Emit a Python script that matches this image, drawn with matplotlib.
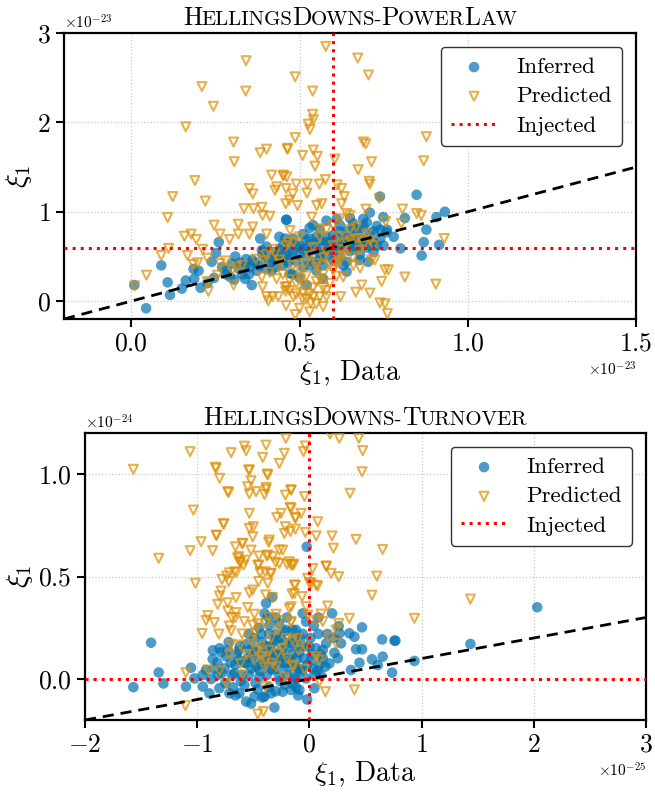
import numpy as np
import matplotlib
matplotlib.use("Agg")
import matplotlib.pyplot as plt
from matplotlib.offsetbox import TextArea, HPacker, AnchoredOffsetbox

plt.rcParams['font.family'] = 'serif'
plt.rcParams['font.serif'] = ['cmr10']
plt.rcParams['mathtext.fontset'] = 'cm'
plt.rcParams['axes.formatter.use_mathtext'] = True
plt.rcParams['axes.unicode_minus'] = True

BLUE = '#0173b2'
ORANGE = '#de8f05'

# ---- HellingsDowns-PowerLaw (both axes in units of 1e-23) ----
pl_scale = 1e-23
pl_inferred = [
    (0.044, -0.08), (0.009, 0.18), (0.089, 0.40), (0.108, 0.21), (0.115, 0.07), (0.15, 0.14),
    (0.162, 0.23), (0.187, 0.25), (0.185, 0.36), (0.206, 0.15), (0.20, 0.34), (0.239, 0.44),
    (0.246, 0.26), (0.26, 0.66), (0.252, 0.54), (0.226, 0.20), (0.294, 0.27), (0.306, 0.24),
    (0.309, 0.50), (0.323, 0.43), (0.338, 0.25), (0.341, 0.47), (0.358, 0.18), (0.368, 0.43),
    (0.383, 0.70), (0.388, 0.57), (0.402, 0.61), (0.417, 0.34), (0.422, 0.45), (0.432, 0.49),
    (0.457, 0.70), (0.46, 0.91), (0.466, 0.43), (0.373, 0.34), (0.353, 0.38), (0.284, 0.34),
    (0.848, 1.19), (0.739, 1.17), (0.932, 1.00), (0.907, 0.94), (0.877, 0.80), (0.869, 0.66),
    (0.915, 0.63), (0.863, 0.51), (0.80, 0.59), (0.813, 0.93), (0.749, 0.94), (0.758, 0.77),
    (0.462, 0.91), (0.709, 0.99), (0.689, 0.92), (0.659, 0.87), (0.704, 0.44), (0.679, 0.46),
    (0.64, 0.44), (0.472, 0.31), (0.521, 0.18),
    (0.48, 0.55), (0.50, 0.62), (0.52, 0.48), (0.53, 0.70), (0.55, 0.58), (0.56, 0.80),
    (0.57, 0.52), (0.58, 0.66), (0.60, 0.74), (0.61, 0.60), (0.62, 0.85), (0.63, 0.68),
    (0.64, 0.78), (0.65, 0.56), (0.66, 0.72), (0.67, 0.62), (0.68, 0.80), (0.69, 0.70),
    (0.70, 0.60), (0.71, 0.76), (0.72, 0.66), (0.73, 0.84), (0.74, 0.70), (0.75, 0.62),
    (0.44, 0.58), (0.45, 0.40), (0.47, 0.66), (0.49, 0.45), (0.51, 0.38), (0.54, 0.44),
    (0.55, 0.34), (0.57, 0.40), (0.59, 0.50), (0.60, 0.45), (0.62, 0.50), (0.63, 0.40),
    (0.51, 0.75), (0.54, 0.85), (0.58, 0.90), (0.61, 0.92), (0.65, 0.93), (0.40, 0.48),
    (0.43, 0.38), (0.46, 0.52), (0.52, 0.60), (0.56, 0.68), (0.66, 0.82), (0.70, 0.88),
    (0.76, 0.80), (0.78, 0.72), (0.48, 0.30), (0.50, 0.26), (0.57, 0.25), (0.64, 0.33),
    (0.68, 0.52), (0.72, 0.55), (0.44, 0.72), (0.53, 0.82), (0.62, 0.63), (0.59, 0.58),
    (0.36, 0.46), (0.38, 0.40), (0.39, 0.52), (0.41, 0.42), (0.42, 0.55), (0.43, 0.50),
    (0.45, 0.62), (0.46, 0.46), (0.47, 0.55), (0.48, 0.70), (0.49, 0.62), (0.50, 0.52),
    (0.51, 0.58), (0.52, 0.68), (0.53, 0.56), (0.54, 0.64), (0.55, 0.72), (0.56, 0.52),
    (0.57, 0.60), (0.58, 0.72), (0.59, 0.66), (0.60, 0.55), (0.61, 0.70), (0.62, 0.78),
    (0.63, 0.60), (0.64, 0.70), (0.65, 0.64), (0.66, 0.66), (0.67, 0.76), (0.68, 0.62),
    (0.69, 0.84), (0.70, 0.68), (0.71, 0.62), (0.72, 0.78), (0.73, 0.62), (0.74, 0.80),
    (0.34, 0.40), (0.32, 0.36), (0.30, 0.42), (0.27, 0.38), (0.28, 0.30), (0.33, 0.30),
    (0.35, 0.30), (0.40, 0.36), (0.44, 0.52), (0.53, 0.40), (0.56, 0.46), (0.66, 0.58),
]
pl_predicted = [
    (0.341, 2.69), (0.21, 2.40), (0.34, 2.35), (0.244, 2.18), (0.162, 1.95), (0.304, 1.78),
    (0.306, 1.56), (0.383, 1.66), (0.402, 1.70), (0.464, 1.70), (0.189, 1.35), (0.123, 1.17),
    (0.22, 1.12), (0.108, 0.935), (0.351, 1.26), (0.361, 1.20), (0.335, 1.035), (0.363, 1.035),
    (0.388, 1.05), (0.39, 0.96), (0.412, 0.95), (0.417, 1.41), (0.432, 1.28), (0.452, 1.40),
    (0.427, 1.24), (0.46, 1.26), (0.459, 1.09), (0.246, 0.85), (0.318, 0.86), (0.361, 0.83),
    (0.158, 0.726), (0.178, 0.75), (0.193, 0.69), (0.264, 0.75), (0.292, 0.69), (0.318, 0.75),
    (0.351, 0.75), (0.402, 0.75), (0.111, 0.59), (0.089, 0.51), (0.167, 0.51), (0.212, 0.58),
    (0.226, 0.48), (0.197, 0.43), (0.185, 0.41), (0.045, 0.29), (0.01, 0.17), (0.264, 0.42),
    (0.256, 0.29), (0.226, 0.22), (0.229, 0.11), (0.304, 0.18), (0.313, 0.38), (0.388, 0.27),
    (0.39, 0.16), (0.402, 0.05), (0.407, 0.004), (0.42, 0.05), (0.437, 0.05), (0.457, 0.16),
    (0.459, 0.11), (0.432, 0.25), (0.412, 0.32), (0.397, 0.45), (0.427, 0.53), (0.466, 0.66),
    (0.442, 0.42),
    (0.578, 2.85), (0.673, 2.72), (0.705, 2.53), (0.487, 2.51), (0.539, 2.35), (0.539, 2.09),
    (0.541, 2.03), (0.526, 1.98), (0.531, 1.92), (0.487, 1.83), (0.464, 1.71), (0.509, 1.63),
    (0.541, 1.69), (0.553, 1.62), (0.546, 1.51), (0.605, 1.59), (0.69, 1.78), (0.697, 1.76),
    (0.714, 1.56), (0.674, 1.47), (0.707, 1.34), (0.709, 1.31), (0.877, 1.84), (0.869, 1.57),
    (0.452, 1.41), (0.462, 1.39), (0.49, 1.31), (0.523, 1.31), (0.559, 1.31), (0.577, 1.36),
    (0.612, 1.30), (0.625, 1.26), (0.633, 1.17), (0.625, 1.09), (0.566, 1.09), (0.551, 1.07),
    (0.494, 1.07), (0.47, 1.13), (0.48, 1.20), (0.522, 1.21), (0.697, 1.03), (0.737, 1.15),
    (0.806, 1.03), (0.803, 0.87), (0.848, 0.98), (0.862, 0.96), (0.756, 0.89), (0.93, 0.70),
    (0.536, 0.94), (0.64, 0.98), (0.65, 0.96), (0.714, 0.46), (0.724, 0.46), (0.754, 0.35),
    (0.764, 0.35), (0.813, 0.27), (0.905, 0.19), (0.744, 0.22), (0.685, 0.18), (0.709, 0.09),
    (0.667, 0.10), (0.68, 0.37), (0.739, -0.02), (0.754, -0.03), (0.761, -0.14), (0.63, 0.27),
    (0.622, 0.05), (0.58, 0.12), (0.58, 0.05), (0.541, 0.05), (0.533, -0.02), (0.509, 0.03),
    (0.487, -0.15), (0.482, 0.05), (0.462, 0.16), (0.561, 0.25), (0.551, 0.42), (0.571, 0.49),
    (0.516, 0.42), (0.482, 0.66), (0.472, 0.79), (0.561, 0.81), (0.619, 0.72), (0.669, 0.83),
    (0.609, 0.42), (0.659, 0.49), (0.68, 0.57), (0.60, 0.35), (0.504, 0.25),
    (0.45, 0.30), (0.47, 0.12), (0.49, 0.20), (0.50, 0.35), (0.51, 0.10), (0.52, 0.28),
    (0.53, 0.50), (0.54, 0.15), (0.55, 0.38), (0.56, 0.05), (0.57, 0.30), (0.58, 0.55),
    (0.59, 0.20), (0.60, 0.62), (0.61, 0.28), (0.62, 0.45), (0.63, 0.58), (0.64, 0.65),
    (0.65, 0.80), (0.66, 0.40), (0.67, 0.70), (0.69, 0.62), (0.70, 0.75), (0.72, 0.62),
    (0.46, -0.05), (0.50, -0.08), (0.53, -0.12), (0.55, -0.03), (0.57, -0.06), (0.52, 0.02),
    (0.48, 0.40), (0.54, 0.60), (0.56, 0.72), (0.58, 0.80), (0.60, 0.85), (0.62, 0.92),
    (0.50, 0.72), (0.46, 0.62), (0.44, 0.46), (0.42, 0.58), (0.40, 0.52), (0.37, 0.47),
    (0.33, 0.40), (0.30, 0.35), (0.28, 0.45),
    (0.47, 0.24), (0.49, 0.08), (0.51, 0.18), (0.53, 0.08), (0.55, 0.22), (0.57, 0.15),
    (0.59, 0.40), (0.61, 0.50), (0.63, 0.52), (0.65, 0.68), (0.68, 0.70), (0.71, 0.68),
]
pl_injected = 0.6

# ---- HellingsDowns-Turnover (x in 1e-25, y in 1e-24) ----
to_xscale = 1e-25
to_yscale = 1e-24
to_inferred = [
    (-1.569, -0.04), (-1.411, 0.177), (-1.343, 0.032), (-1.301, -0.022), (-1.055, 0.055),
    (-1.1, -0.037), (-1.025, 0.003), (-0.95, -0.037), (-0.876, 0.0), (-0.862, 0.097),
    (-0.787, 0.13), (-0.728, 0.141), (-0.891, -0.07), (-0.802, -0.045), (-0.713, -0.07),
    (-0.624, -0.07), (-0.564, -0.11), (-0.52, -0.12), (-0.49, -0.086), (-0.401, -0.086),
    (-0.312, -0.139), (-0.342, -0.07), (-0.238, -0.062), (-0.164, -0.053), (-0.386, 0.369),
    (-0.371, 0.304), (-0.357, 0.263), (-0.297, 0.191), (-0.223, 0.232), (-0.164, 0.174),
    (-0.535, 0.141), (-0.624, 0.093), (-0.564, 0.076), (-0.475, 0.06), (-0.446, 0.011),
    (-0.327, 0.044), (-0.268, 0.093), (-0.208, 0.076), (-0.149, -0.021), (-0.668, 0.028),
    (-0.757, 0.052), (-0.817, 0.02), (-0.921, 0.044),
    (-0.024, 0.645), (0.202, 0.32), (0.261, 0.258), (0.268, 0.223), (0.356, 0.223),
    (0.401, 0.206), (0.469, 0.252), (0.416, 0.145), (0.469, 0.145), (0.282, 0.174),
    (0.223, 0.128), (0.149, 0.174), (0.119, 0.141), (0.178, 0.076), (0.253, 0.101),
    (0.446, 0.079), (0.371, 0.044), (0.558, 0.096), (0.609, 0.068), (0.653, 0.109),
    (0.648, 0.193), (0.758, 0.187), (0.737, 0.031), (0.936, 0.088), (0.015, 0.093),
    (0.09, 0.068), (-0.06, 0.047), (-0.089, -0.053), (0.045, -0.045), (-0.03, 0.003),
    (-0.119, 0.003), (-0.148, 0.239), (0.0, 0.158), (1.435, 0.171), (2.03, 0.35), (0.767, 0.187),
    (-0.7, 0.08), (-0.65, 0.12), (-0.6, 0.02), (-0.55, 0.10), (-0.5, 0.15), (-0.45, 0.08),
    (-0.42, 0.18), (-0.4, 0.12), (-0.38, 0.02), (-0.35, 0.16), (-0.32, 0.10), (-0.3, 0.22),
    (-0.28, 0.05), (-0.25, 0.14), (-0.22, 0.18), (-0.2, 0.02), (-0.18, 0.10), (-0.15, 0.12),
    (-0.12, 0.06), (-0.1, 0.16), (-0.08, 0.20), (-0.05, 0.10), (-0.03, 0.28), (0.03, 0.05),
    (0.06, 0.15), (0.08, 0.22), (0.1, 0.02), (-0.45, 0.25), (-0.4, 0.32), (-0.33, 0.40),
    (-0.52, 0.05), (-0.62, 0.16), (-0.75, -0.02), (-0.68, -0.04), (-0.58, -0.03), (-0.48, -0.02),
    (-0.36, -0.04), (-0.26, -0.01), (-0.1, -0.08), (-0.02, -0.1), (0.05, 0.02), (0.12, 0.10),
    (-0.85, 0.05), (-0.95, 0.02), (-0.8, 0.15), (-0.3, 0.3), (-0.2, 0.3), (-0.1, 0.05),
    (-0.86, 0.14), (-0.82, 0.08), (-0.78, 0.03), (-0.74, 0.11), (-0.72, 0.18), (-0.69, 0.02),
    (-0.66, 0.07), (-0.63, 0.14), (-0.61, -0.01), (-0.58, 0.08), (-0.56, 0.17), (-0.54, 0.02),
    (-0.51, 0.10), (-0.49, 0.20), (-0.47, 0.13), (-0.44, 0.04), (-0.43, 0.22), (-0.41, 0.07),
    (-0.39, 0.16), (-0.37, 0.09), (-0.36, 0.22), (-0.34, 0.05), (-0.33, 0.13), (-0.31, 0.18),
    (-0.29, 0.12), (-0.27, 0.01), (-0.26, 0.20), (-0.24, 0.08), (-0.23, 0.13), (-0.21, 0.24),
    (-0.19, 0.05), (-0.17, 0.16), (-0.16, 0.08), (-0.14, 0.20), (-0.13, 0.01), (-0.11, 0.10),
    (-0.09, 0.13), (-0.07, 0.04), (-0.06, 0.22), (-0.04, 0.16), (-0.02, 0.07), (0.01, 0.20),
    (0.02, 0.12), (0.04, 0.26), (0.07, 0.04), (0.10, 0.12), (0.14, 0.06), (0.16, 0.22),
    (-0.46, -0.05), (-0.42, -0.09), (-0.30, -0.06), (-0.22, -0.03), (-0.12, -0.04), (-0.66, -0.08),
    (-0.54, 0.22), (-0.27, 0.27), (-0.12, 0.24), (-0.06, 0.32), (0.08, 0.30), (0.22, 0.20),
]
to_predicted = [
    (-1.569, 1.023), (1.435, 0.39),
    (-1.063, 1.109), (-1.343, 0.589), (-1.063, 0.626), (-1.016, 0.467), (-1.034, 0.824),
    (-0.965, 0.67), (-0.862, 0.626), (-0.832, 0.702), (-0.764, 0.757), (-0.837, 1.033),
    (-0.8, 0.979), (-0.728, 0.914), (-0.698, 1.104), (-0.579, 1.136), (-0.564, 1.113),
    (-0.386, 1.141), (-0.416, 1.081), (-0.21, 1.174), (-0.223, 1.101), (-0.268, 1.052),
    (-0.535, 1.019), (-0.371, 0.995), (-0.52, 0.967), (-0.55, 0.938), (-0.475, 0.914),
    (-0.386, 0.935), (-0.535, 0.903), (-0.164, 0.922), (-0.214, 0.897), (-0.172, 0.837),
    (-0.535, 0.808), (-0.5, 0.743), (-0.535, 0.735), (-0.505, 0.694), (-0.357, 0.678),
    (-0.594, 0.662), (-0.659, 0.645), (-0.52, 0.629), (-0.291, 0.788), (-0.253, 0.808),
    (-0.125, 0.788), (-0.214, 0.743), (-0.223, 0.71), (-0.268, 0.629), (-0.238, 0.629),
    (-0.371, 0.605), (-0.327, 0.597), (-0.179, 0.572), (-0.149, 0.556), (-0.268, 0.564),
    (-0.63, 0.597), (-0.615, 0.572), (-0.586, 0.556), (-0.452, 0.556), (-0.393, 0.523),
    (-0.35, 0.515), (-0.371, 0.467), (-0.452, 0.476), (-0.713, 0.518), (-0.737, 0.502),
    (-0.779, 0.486), (-0.668, 0.523), (-0.719, 0.476), (-0.787, 0.429), (-0.802, 0.405),
    (-0.817, 0.364), (-0.728, 0.372), (-0.654, 0.397), (-0.535, 0.421), (-0.505, 0.434),
    (-0.39, 0.41), (-0.327, 0.397), (-0.125, 0.458), (-0.134, 0.417), (-0.179, 0.344),
    (-0.906, 0.31), (-0.921, 0.286), (-0.847, 0.275), (-0.956, 0.222), (-0.807, 0.219),
    (-0.713, 0.259), (-0.698, 0.235), (-0.728, 0.332), (-0.654, 0.324), (-0.692, 0.3),
    (-0.55, 0.349), (-0.49, 0.316), (-0.505, 0.262), (-0.46, 0.27), (-0.49, 0.222),
    (-0.39, 0.27), (-0.36, 0.3), (-0.297, 0.316), (-0.268, 0.286), (-0.164, 0.275),
    (-0.282, 0.238), (-0.208, 0.198), (-0.149, 0.19), (-0.615, 0.166), (-0.713, 0.117),
    (-0.475, 0.141), (-0.357, 0.141), (-0.282, 0.125), (-0.49, 0.093), (-0.39, 0.093),
    (-0.327, 0.076), (-0.297, 0.06), (-0.615, 0.076), (-0.802, 0.04), (-0.906, 0.044),
    (-1.1, 0.031), (-0.737, -0.021), (-0.594, 0.02), (-0.401, 0.057), (-0.223, 0.011),
    (-0.149, 0.068), (-0.39, -0.037), (-1.105, -0.13), (-0.46, -0.171), (-0.41, -0.159),
    (0.267, 1.174), (0.184, 1.195), (0.44, 1.174), (0.475, 1.114), (0.469, 1.011),
    (-0.036, 1.137), (-0.053, 1.109), (0.362, 0.906), (-0.163, 0.922), (-0.044, 0.89),
    (-0.163, 0.833), (-0.074, 0.808), (-0.125, 0.784), (-0.125, 0.731), (-0.036, 0.715),
    (0.074, 0.767), (0.06, 0.698), (0.202, 0.698), (0.214, 0.638), (0.416, 0.681),
    (0.653, 0.632), (0.6, 0.502), (0.558, 0.409), (0.936, 0.296), (-0.163, 0.556),
    (0.03, 0.539), (0.149, 0.551), (0.193, 0.515), (0.261, 0.499), (-0.015, 0.491),
    (0.015, 0.467), (0.074, 0.454), (-0.134, 0.458), (-0.154, 0.415), (-0.065, 0.402),
    (-0.03, 0.353), (0.163, 0.356), (-0.163, 0.353), (-0.015, 0.312), (0.104, 0.317),
    (0.06, 0.285), (0.119, 0.28), (-0.163, 0.28), (0.261, 0.271), (0.356, 0.296),
    (0.238, 0.239), (0.172, 0.203), (0.238, 0.174), (-0.104, 0.198), (-0.036, 0.158),
    (0.06, 0.109), (0.09, 0.093), (-0.143, 0.06), (-0.044, 0.047), (0.09, -0.013),
    (0.143, -0.062), (0.401, -0.053),
    (-0.832, 1.028), (-0.541, 1.02), (-0.377, 1.0), (-0.386, 0.925), (-0.4, 0.9),
    (-0.72, 0.91), (-0.766, 0.756), (-0.826, 0.70), (-0.6, 0.66), (-0.363, 0.667),
    (-0.64, 0.59), (-0.62, 0.57), (-0.45, 0.60), (-0.38, 0.60), (-0.2, 0.56), (-0.14, 0.56),
    (-0.3, 0.57), (-0.57, 0.58), (-0.65, 0.52), (-0.46, 0.555), (-0.44, 0.52), (-0.34, 0.515),
    (0.0, 0.47), (0.06, 0.457), (0.15, 0.55), (-0.17, 0.72),
    (-0.70, 0.17), (-0.60, 0.22), (-0.52, 0.19), (-0.44, 0.16), (-0.34, 0.20), (-0.24, 0.15),
    (-0.56, 0.12), (-0.42, 0.11), (-0.20, 0.10), (-0.10, 0.14), (-0.66, 0.30), (-0.58, 0.28),
]
to_injected = 0.0


def smallcaps_title(ax, parts, big=18.5, small=15):
    # parts alternate capital / small-capital pieces
    boxes = []
    for i, p in enumerate(parts):
        size = big if i % 2 == 0 else small
        boxes.append(TextArea(p, textprops=dict(fontsize=size, color='black')))
    pack = HPacker(children=boxes, align='baseline', pad=0, sep=-0.5)
    box = AnchoredOffsetbox(loc='lower center', child=pack, pad=0, borderpad=0.2,
                            frameon=False, bbox_to_anchor=(0.5, 1.0),
                            bbox_transform=ax.transAxes)
    ax.add_artist(box)


def panel(ax, inferred, predicted, xscale, yscale, injected, xlim, ylim, xticks, yticks):
    inf = np.array(inferred)
    pre = np.array(predicted)
    ax.scatter(inf[:, 0] * xscale, inf[:, 1] * yscale, s=58, color=BLUE, alpha=0.7,
               edgecolors='none', label='Inferred', zorder=2)
    ax.scatter(pre[:, 0] * xscale, pre[:, 1] * yscale, s=42, marker='v', facecolors='none',
               edgecolors=ORANGE, alpha=0.7, linewidths=1.5, label='Predicted', zorder=3)
    t = np.array([xlim[0], xlim[1]]) * xscale
    ax.plot(t, t, color='black', ls='--', lw=2.0, dashes=(4, 2.5), zorder=4)
    ax.axhline(injected * yscale, color='red', ls=':', lw=2.2, label='Injected', zorder=5)
    ax.axvline(injected * xscale, color='red', ls=':', lw=2.2, zorder=5)
    ax.set_xlim(xlim[0] * xscale, xlim[1] * xscale)
    ax.set_ylim(ylim[0] * yscale, ylim[1] * yscale)
    ax.set_xticks(np.array(xticks) * xscale)
    ax.set_yticks(np.array(yticks) * yscale)
    ax.grid(True, ls=':', color='#c8c8c8', lw=0.9, zorder=0)
    ax.set_axisbelow(True)
    for s in ax.spines.values():
        s.set_linewidth(1.6)
        s.set_color('black')
    ax.tick_params(axis='both', labelsize=18.5, width=1.5, length=6, direction='out')
    ax.xaxis.get_offset_text().set_fontsize(11)
    ax.yaxis.get_offset_text().set_fontsize(11)
    ax.set_xlabel(r'$\xi_1$, Data', fontsize=20, labelpad=2)
    ax.set_ylabel(r'$\xi_1$', fontsize=21, labelpad=2)
    leg = ax.legend(loc='upper right', fontsize=16.5, fancybox=True, framealpha=1,
                    edgecolor='#333333', borderaxespad=0.6, handletextpad=0.85,
                    borderpad=0.45, labelspacing=0.4)
    leg.get_frame().set_linewidth(1.0)


fig = plt.figure(figsize=(6.55, 7.92), dpi=100)

ax1 = fig.add_axes([64 / 655, 1 - 319 / 792, 572 / 655, 286 / 792])
panel(ax1, pl_inferred, pl_predicted, pl_scale, pl_scale, pl_injected,
      (-0.2, 1.5), (-0.2, 3.0), [0.0, 0.5, 1.0, 1.5], [0, 1, 2, 3])
smallcaps_title(ax1, ['H', 'ELLINGS', 'D', 'OWNS-', 'P', 'OWER', 'L', 'AW'])

ax2 = fig.add_axes([85 / 655, 1 - 720 / 792, 561 / 655, 287 / 792])
panel(ax2, to_inferred, to_predicted, to_xscale, to_yscale, to_injected,
      (-2, 3), (-0.2, 1.2), [-2, -1, 0, 1, 2, 3], [0.0, 0.5, 1.0])
smallcaps_title(ax2, ['H', 'ELLINGS', 'D', 'OWNS-', 'T', 'URNOVER'])

fig.savefig('out.png', dpi=100)
